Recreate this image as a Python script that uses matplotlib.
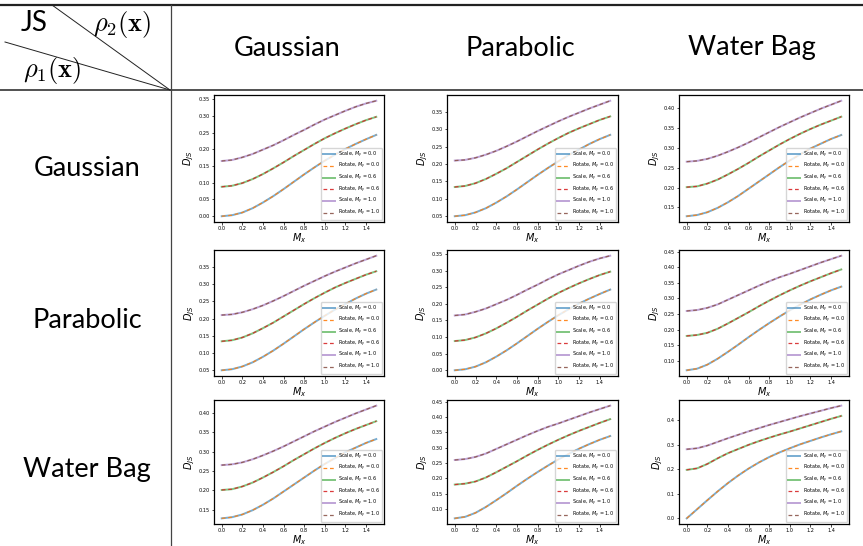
import numpy as np
import matplotlib.pyplot as plt
from matplotlib.lines import Line2D

# Shared x grid (M_x) for every panel
mx = [0.0, 0.1, 0.2, 0.3, 0.4, 0.5, 0.6, 0.7, 0.8, 0.9, 1.0, 1.1, 1.2, 1.3, 1.4, 1.5]
my_levels = ["0.0", "0.6", "1.0"]

dists = ["Gaussian", "Parabolic", "Water Bag"]

# D_JS, one list per M_y level (0.0, 0.6, 1.0)
# Gaussian vs Gaussian (Parabolic vs Parabolic looks the same)
gg_00 = [0.000, 0.003, 0.011, 0.024, 0.041, 0.060, 0.081, 0.103, 0.125, 0.146, 0.166, 0.184, 0.201, 0.216, 0.230, 0.243]
gg_06 = [0.088, 0.091, 0.099, 0.111, 0.126, 0.143, 0.161, 0.180, 0.198, 0.216, 0.233, 0.248, 0.262, 0.275, 0.287, 0.297]
gg_10 = [0.165, 0.168, 0.176, 0.186, 0.199, 0.212, 0.227, 0.243, 0.258, 0.274, 0.289, 0.302, 0.315, 0.327, 0.337, 0.345]

# Gaussian vs Parabolic
gp_00 = [0.050, 0.053, 0.061, 0.073, 0.089, 0.107, 0.127, 0.148, 0.169, 0.189, 0.208, 0.226, 0.242, 0.258, 0.272, 0.284]
gp_06 = [0.134, 0.137, 0.145, 0.157, 0.172, 0.188, 0.206, 0.224, 0.242, 0.259, 0.275, 0.290, 0.303, 0.315, 0.327, 0.337]
gp_10 = [0.210, 0.212, 0.218, 0.227, 0.238, 0.251, 0.265, 0.280, 0.295, 0.309, 0.323, 0.336, 0.348, 0.360, 0.371, 0.382]

# Gaussian vs Water Bag
gw_00 = [0.128, 0.131, 0.138, 0.149, 0.163, 0.179, 0.197, 0.215, 0.233, 0.251, 0.268, 0.283, 0.298, 0.310, 0.322, 0.332]
gw_06 = [0.201, 0.203, 0.210, 0.220, 0.233, 0.247, 0.262, 0.278, 0.293, 0.308, 0.322, 0.335, 0.347, 0.358, 0.368, 0.378]
gw_10 = [0.265, 0.267, 0.272, 0.280, 0.290, 0.301, 0.313, 0.326, 0.339, 0.352, 0.364, 0.376, 0.387, 0.398, 0.408, 0.418]

# Parabolic vs Water Bag
pw_00 = [0.070, 0.075, 0.088, 0.107, 0.129, 0.152, 0.176, 0.199, 0.221, 0.242, 0.262, 0.280, 0.297, 0.312, 0.326, 0.338]
pw_06 = [0.180, 0.183, 0.190, 0.203, 0.220, 0.238, 0.256, 0.275, 0.293, 0.310, 0.326, 0.341, 0.355, 0.368, 0.381, 0.393]
pw_10 = [0.260, 0.263, 0.270, 0.281, 0.296, 0.311, 0.326, 0.341, 0.355, 0.368, 0.379, 0.391, 0.403, 0.415, 0.426, 0.437]

# Water Bag vs Water Bag
ww_00 = [0.000, 0.037, 0.074, 0.110, 0.144, 0.175, 0.203, 0.228, 0.250, 0.269, 0.286, 0.302, 0.316, 0.330, 0.343, 0.355]
ww_06 = [0.198, 0.204, 0.222, 0.245, 0.266, 0.283, 0.300, 0.315, 0.329, 0.342, 0.354, 0.367, 0.380, 0.393, 0.406, 0.418]
ww_10 = [0.282, 0.286, 0.297, 0.312, 0.327, 0.341, 0.355, 0.368, 0.381, 0.393, 0.405, 0.417, 0.428, 0.439, 0.450, 0.460]

# JS is symmetric, so the table uses each pair twice
grid = [
    [(gg_00, gg_06, gg_10), (gp_00, gp_06, gp_10), (gw_00, gw_06, gw_10)],
    [(gp_00, gp_06, gp_10), (gg_00, gg_06, gg_10), (pw_00, pw_06, pw_10)],
    [(gw_00, gw_06, gw_10), (pw_00, pw_06, pw_10), (ww_00, ww_06, ww_10)],
]

W, H = 863, 546
fig = plt.figure(figsize=(W / 100, H / 100), dpi=100)


def fx(px):
    return px / W


def fy(py):
    return 1 - py / H


def hline(x0, x1, y, lw):
    fig.add_artist(Line2D([fx(x0), fx(x1)], [fy(y), fy(y)], color="#222222", lw=lw, transform=fig.transFigure))


# table rules
hline(0, W, 5, 1.6)
hline(0, W, 90, 1.1)
fig.add_artist(Line2D([fx(171), fx(171)], [fy(5), fy(546)], color="#444444", lw=0.9, transform=fig.transFigure))
fig.add_artist(Line2D([fx(52), fx(170)], [fy(5), fy(90)], color="#222222", lw=0.7, transform=fig.transFigure))
fig.add_artist(Line2D([fx(5), fx(170)], [fy(42), fy(90)], color="#222222", lw=0.7, transform=fig.transFigure))

# corner labels
font = "Lato"
fig.text(fx(34), fy(23), "JS", fontsize=20, family=font, ha="center", va="center")
fig.text(fx(122), fy(24), r"$\rho_2(\mathbf{x})$", fontsize=19, ha="center", va="center", math_fontfamily="cm")
fig.text(fx(52), fy(71), r"$\rho_1(\mathbf{x})$", fontsize=19, ha="center", va="center", math_fontfamily="cm")

col_centers = [287, 520, 752]
row_centers = [168, 320, 470]
for name, cx in zip(dists, col_centers):
    fig.text(fx(cx), fy(48), name, fontsize=19.5, family=font, ha="center", va="center")
for name, cy in zip(dists, row_centers):
    fig.text(fx(87), fy(cy), name, fontsize=19.5, family=font, ha="center", va="center")

# panel boxes in pixels
lefts = [214, 447, 679]
rights = [384, 618, 849]
tops = [95, 250, 400]
bottoms = [222, 376, 524]

scale_colors = ["#1f77b4", "#2ca02c", "#9467bd"]
rotate_colors = ["#ff7f0e", "#d62728", "#8c564b"]

for r in range(3):
    for c in range(3):
        ax = fig.add_axes([fx(lefts[c]), fy(bottoms[r]),
                           (rights[c] - lefts[c]) / W, (bottoms[r] - tops[r]) / H])
        curves = grid[r][c]
        for k in range(3):
            ys = curves[k]
            ax.plot(mx, ys, color=scale_colors[k], lw=1.4, alpha=0.6,
                    label=f"Scale, $M_y$ = {my_levels[k]}")
            # Rotate curves sit right on top of the Scale ones
            ax.plot(mx, ys, color=rotate_colors[k], lw=0.9, alpha=0.9, linestyle=(0, (3.0, 2.2)),
                    label=f"Rotate, $M_y$ = {my_levels[k]}")
        ax.set_xticks([0.0, 0.2, 0.4, 0.6, 0.8, 1.0, 1.2, 1.4])
        ax.tick_params(labelsize=3.6, length=1.8, width=0.5, pad=1.2)
        ax.set_xlabel("$M_x$", fontsize=7, labelpad=0)
        ax.set_ylabel("$D_{JS}$", fontsize=7, labelpad=1.5)
        for s in ax.spines.values():
            s.set_linewidth(0.9)
        ax.legend(loc="lower right", fontsize=3.5, handlelength=2.4, labelspacing=0.3,
                  borderpad=0.4, handletextpad=0.6, borderaxespad=0.4,
                  frameon=True, fancybox=True, framealpha=0.8)

fig.savefig("out.png", dpi=100)
